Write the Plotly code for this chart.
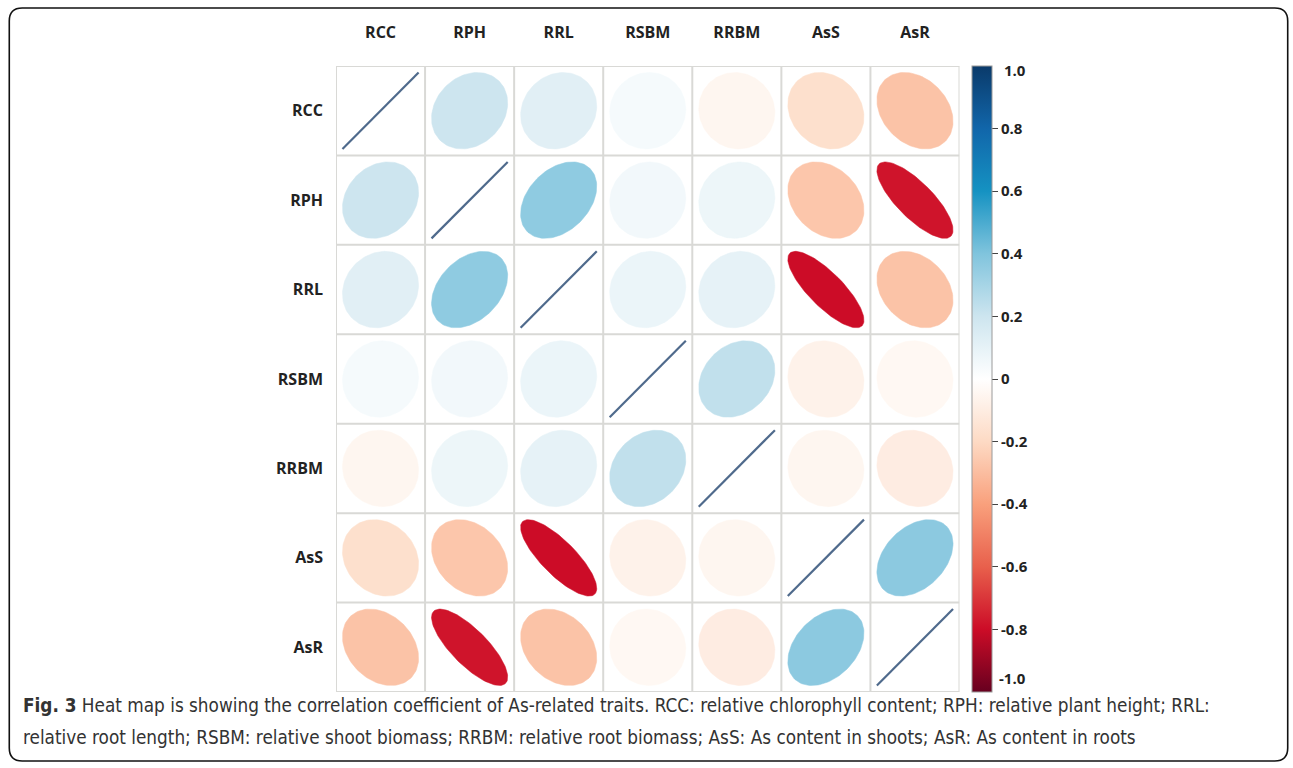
import numpy as np
import plotly.graph_objects as go
from plotly.colors import sample_colorscale

# ---------------- data ----------------
traits = ["RCC", "RPH", "RRL", "RSBM", "RRBM", "AsS", "AsR"]

# correlation matrix rows
corr_RCC = [1.00, 0.20, 0.12, 0.04, -0.05, -0.17, -0.28]
corr_RPH = [0.20, 1.00, 0.36, 0.05, 0.07, -0.27, -0.78]
corr_RRL = [0.12, 0.36, 1.00, 0.08, 0.10, -0.80, -0.28]
corr_RSBM = [0.04, 0.05, 0.08, 1.00, 0.23, -0.07, -0.04]
corr_RRBM = [-0.05, 0.07, 0.10, 0.23, 1.00, -0.05, -0.10]
corr_AsS = [-0.17, -0.27, -0.80, -0.07, -0.05, 1.00, 0.37]
corr_AsR = [-0.28, -0.78, -0.28, -0.04, -0.10, 0.37, 1.00]
corr = [corr_RCC, corr_RPH, corr_RRL, corr_RSBM, corr_RRBM, corr_AsS, corr_AsR]

cbar_vals = [-1.0, -0.8, -0.6, -0.4, -0.2, 0.0, 0.2, 0.4, 0.6, 0.8, 1.0]
cbar_inner_vals = [-0.8, -0.6, -0.4, -0.2, 0.0, 0.2, 0.4, 0.6, 0.8]
cbar_inner_text = ["-0.8", "-0.6", "-0.4", "-0.2", "0", "0.2", "0.4", "0.6", "0.8"]
cbar_end_text = ["1.0", "-1.0"]

caption_line1 = ("<b>Fig. 3</b> Heat map is showing the correlation coefficient of As-related traits. "
                 "RCC: relative chlorophyll content; RPH: relative plant height; RRL:")
caption_line2 = ("relative root length; RSBM: relative shoot biomass; RRBM: relative root biomass; "
                 "AsS: As content in shoots; AsR: As content in roots")

# ---------------- style ----------------
colors = ["#67001F", "#CC0C27", "#E8604C", "#F9A07C", "#FDDAC4", "#FFFFFF",
          "#CDE5EF", "#80C4DD", "#1592C2", "#1166AA", "#0A3A6A"]
colorscale = [[(v + 1) / 2, c] for v, c in zip(cbar_vals, colors)]

W, H = 1293, 768
L, R, T, B = 336, 961, 66, 692  # plot area in pixels
pw, ph = R - L, B - T


def X(px):
    return (px - L) / pw


def Y(py):
    return (B - py) / ph


SCALE = 0.855
n = len(traits)
fig = go.Figure()

k = np.linspace(0, 2 * np.pi, 120)
for i in range(n):
    for j in range(n):
        r = corr[i][j]
        cx, cy = j + 1, i + 1
        if i == j:
            xs = [cx - SCALE / 2, cx + SCALE / 2]
            ys = [cy + SCALE / 2, cy - SCALE / 2]
            fig.add_trace(go.Scatter(x=xs, y=ys, mode="lines",
                                     line=dict(color="#4F6A8C", width=2.2),
                                     hoverinfo="skip", showlegend=False))
            continue
        d = np.arccos(r) / 2
        ex = np.cos(k + d) / 2 * SCALE
        ey = np.cos(k - d) / 2 * SCALE
        col = sample_colorscale(colorscale, [(r + 1) / 2])[0]
        fig.add_trace(go.Scatter(x=cx + ex, y=cy - ey, mode="lines", fill="toself",
                                 fillcolor=col, line=dict(color=col, width=0.5),
                                 hoverinfo="skip", showlegend=False))

tick_font = dict(family="Open Sans", size=15, color="#222", weight="bold")
# colorbar carrier
fig.add_trace(go.Scatter(
    x=[None, None], y=[None, None], mode="markers",
    marker=dict(color=[-1, 1], cmin=-1, cmax=1, colorscale=colorscale, showscale=True,
                colorbar=dict(
                    xref="container", x=972 / W, xanchor="left", xpad=0,
                    yref="paper", y=0.5, yanchor="middle", len=1.0, lenmode="fraction", ypad=0,
                    thickness=20, outlinecolor="#9A9A9A", outlinewidth=1,
                    tickvals=cbar_inner_vals, ticktext=cbar_inner_text, ticks="outside",
                    ticklen=6, tickcolor="#444", tickfont=tick_font)),
    hoverinfo="skip", showlegend=False))

shapes = []
for v in np.arange(0.5, n + 1, 1.0):
    shapes.append(dict(type="line", xref="x", yref="y", x0=v, x1=v, y0=0.5, y1=n + 0.5,
                       line=dict(color="#D9D9D6", width=2), layer="below"))
    shapes.append(dict(type="line", xref="x", yref="y", y0=v, y1=v, x0=0.5, x1=n + 0.5,
                       line=dict(color="#D9D9D6", width=2), layer="below"))

# rounded frame (screen pixels)
fx0, fy0, fx1, fy1, rad = 8.5, 8, 1290, 761, 13
path = (f"M {X(fx0 + rad)},{Y(fy0)} L {X(fx1 - rad)},{Y(fy0)} "
        f"Q {X(fx1)},{Y(fy0)} {X(fx1)},{Y(fy0 + rad)} L {X(fx1)},{Y(fy1 - rad)} "
        f"Q {X(fx1)},{Y(fy1)} {X(fx1 - rad)},{Y(fy1)} L {X(fx0 + rad)},{Y(fy1)} "
        f"Q {X(fx0)},{Y(fy1)} {X(fx0)},{Y(fy1 - rad)} L {X(fx0)},{Y(fy0 + rad)} "
        f"Q {X(fx0)},{Y(fy0)} {X(fx0 + rad)},{Y(fy0)} Z")
shapes.append(dict(type="path", xref="paper", yref="paper", path=path,
                   line=dict(color="#111", width=1.6), layer="above"))

cap_font = dict(family="Liberation Sans Narrow, DejaVu Sans Condensed, Roboto, sans-serif",
                size=18.8, color="#333")
annotations = [
    dict(xref="paper", yref="paper", x=X(20), y=Y(693), xanchor="left", yanchor="top",
         text=caption_line1, showarrow=False, font=cap_font, align="left"),
    dict(xref="paper", yref="paper", x=X(20), y=Y(725), xanchor="left", yanchor="top",
         text=caption_line2, showarrow=False, font=cap_font, align="left"),
    # colorbar end labels, nudged inside the bar's extent as in the original
    dict(xref="paper", yref="paper", x=X(1004), y=Y(70), xanchor="left", yanchor="middle",
         text=cbar_end_text[0], showarrow=False, font=tick_font),
    dict(xref="paper", yref="paper", x=X(999), y=Y(678), xanchor="left", yanchor="middle",
         text=cbar_end_text[1], showarrow=False, font=tick_font),
]

label_font = dict(family="Open Sans", size=16, color="#222", weight="bold")
fig.update_layout(
    width=W, height=H,
    margin=dict(l=L, r=W - R, t=T, b=H - B, pad=0),
    paper_bgcolor="white", plot_bgcolor="white",
    xaxis=dict(range=[0.5, n + 0.5], side="top", tickvals=list(range(1, n + 1)),
               ticktext=traits, showgrid=False, zeroline=False, tickfont=label_font,
               ticklabelstandoff=24, fixedrange=True),
    yaxis=dict(range=[n + 0.5, 0.5], tickvals=list(range(1, n + 1)), ticktext=traits,
               showgrid=False, zeroline=False, tickfont=label_font, ticklabelstandoff=12,
               fixedrange=True),
    shapes=shapes, annotations=annotations,
)

fig.write_html("out.html", config={"displayModeBar": False},
               post_script="document.body.style.margin='0';document.body.style.overflow='hidden';")
